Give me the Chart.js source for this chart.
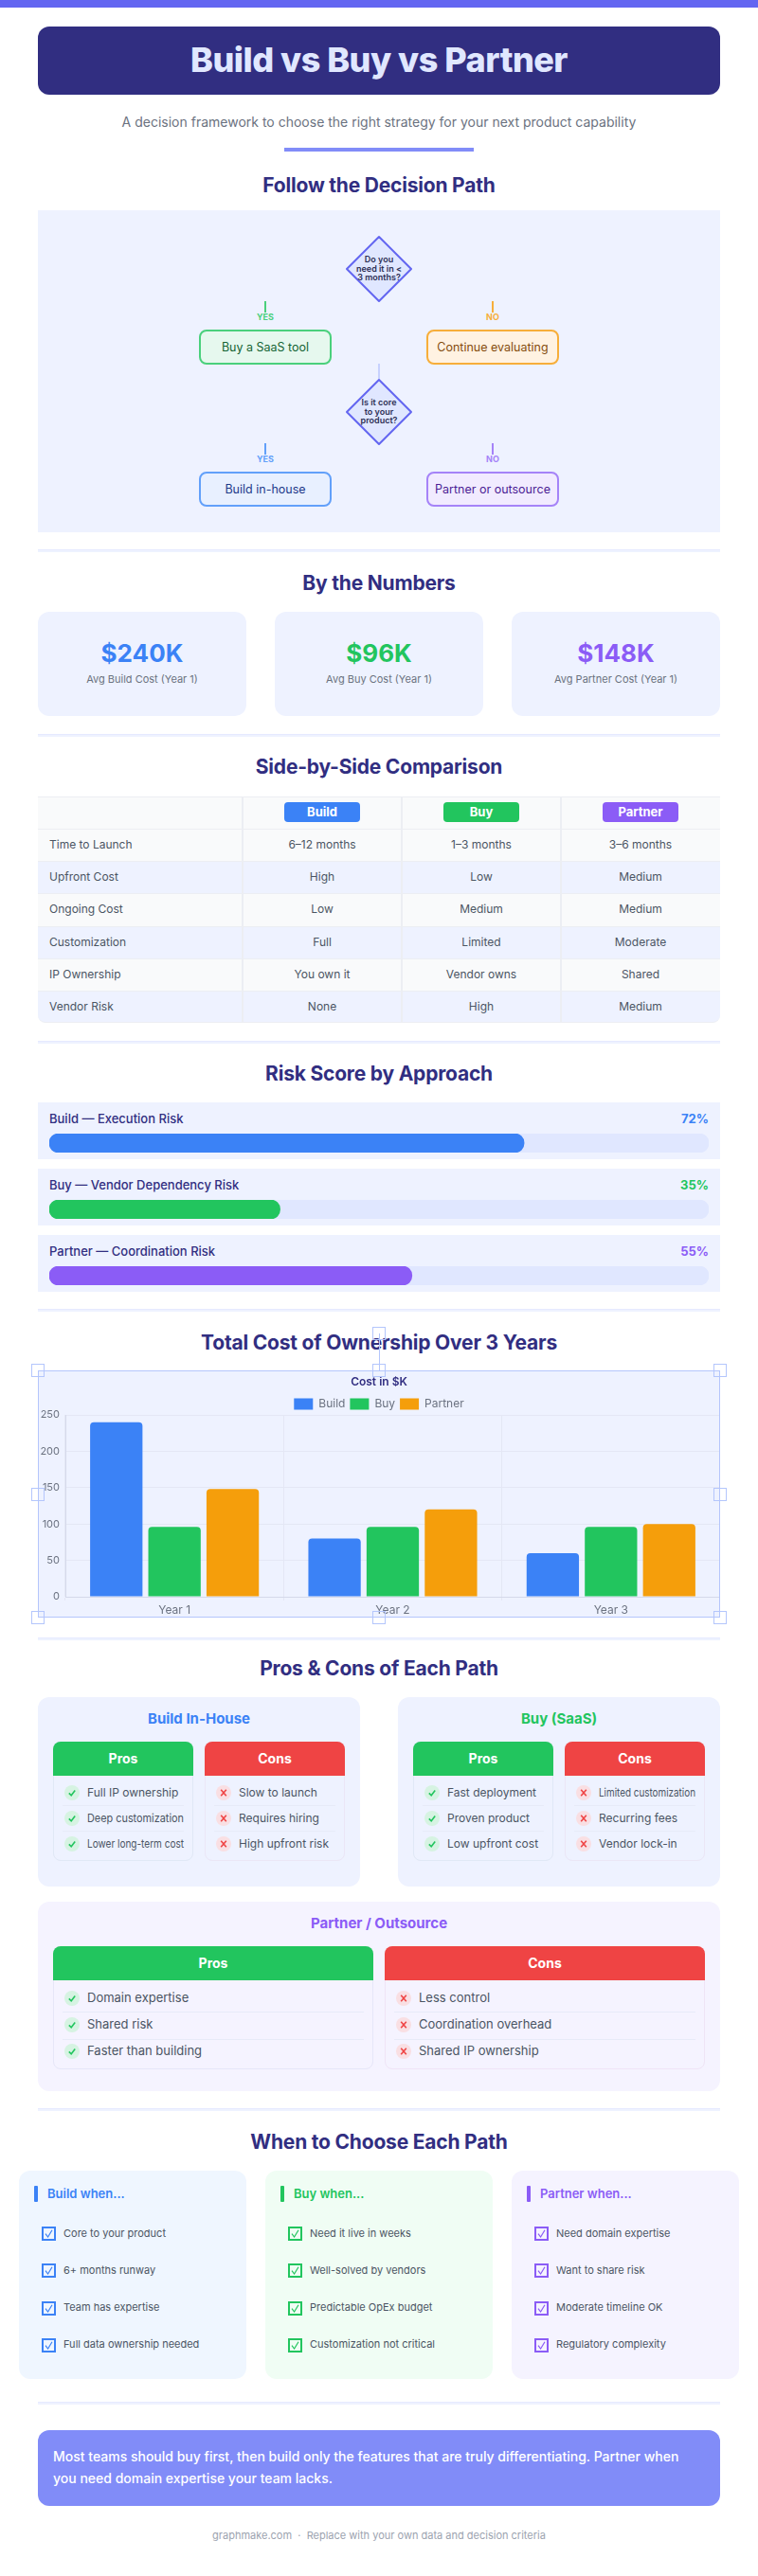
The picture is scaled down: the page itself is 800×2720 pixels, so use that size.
<!DOCTYPE html>
<html lang="en"><head><meta charset="utf-8"><title>Build vs Buy vs Partner</title>
<script src="https://cdn.jsdelivr.net/npm/chart.js@4/dist/chart.umd.min.js"></script>
<style>
html,body{margin:0;padding:0;background:#fff}
#page{position:relative;width:800px;height:2720px;overflow:hidden;font-family:Inter,sans-serif;color:#374151}
.a{position:absolute;box-sizing:border-box}
.t{position:absolute;white-space:nowrap;line-height:1.2}
.h2{font-weight:700;font-size:21px;color:#312e81;letter-spacing:-.2px}
canvas{display:block}
</style></head><body><div id="page"></div>
<script>
const title="Build vs Buy vs Partner";
const subtitle="A decision framework to choose the right strategy for your next product capability";
const sectionTitles=["Follow the Decision Path","By the Numbers","Side-by-Side Comparison","Risk Score by Approach","Total Cost of Ownership Over 3 Years","Pros & Cons of Each Path","When to Choose Each Path"];
const statValues=["$240K","$96K","$148K"];
const statLabels=["Avg Build Cost (Year 1)","Avg Buy Cost (Year 1)","Avg Partner Cost (Year 1)"];
const tableHead=["Build","Buy","Partner"];
const tableRows=["Time to Launch","Upfront Cost","Ongoing Cost","Customization","IP Ownership","Vendor Risk"];
const buildCol=["6–12 months","High","Low","Full","You own it","None"];
const buyCol=["1–3 months","Low","Medium","Limited","Vendor owns","High"];
const partnerCol=["3–6 months","Medium","Medium","Moderate","Shared","Medium"];
const riskLabels=["Build — Execution Risk","Buy — Vendor Dependency Risk","Partner — Coordination Risk"];
const riskValues=[72,35,55];
const years=["Year 1","Year 2","Year 3"];
const buildCost=[240,80,60];
const buyCost=[96,96,96];
const partnerCost=[148,120,100];
const buildPros=["Full IP ownership","Deep customization","Lower long-term cost"];
const buildCons=["Slow to launch","Requires hiring","High upfront risk"];
const buyPros=["Fast deployment","Proven product","Low upfront cost"];
const buyCons=["Limited customization","Recurring fees","Vendor lock-in"];
const partnerPros=["Domain expertise","Shared risk","Faster than building"];
const partnerCons=["Less control","Coordination overhead","Shared IP ownership"];
const whenBuild=["Core to your product","6+ months runway","Team has expertise","Full data ownership needed"];
const whenBuy=["Need it live in weeks","Well-solved by vendors","Predictable OpEx budget","Customization not critical"];
const whenPartner=["Need domain expertise","Want to share risk","Moderate timeline OK","Regulatory complexity"];
const callout=["Most teams should buy first, then build only the features that are truly differentiating. Partner when","you need domain expertise your team lacks."];
const footer="graphmake.com  ·  Replace with your own data and decision criteria";

const BLUE="#3b82f6",GREEN="#22c55e",PURPLE="#8b5cf6",ORANGE="#f59e0b",RED="#ef4444",NAVY="#312e81",PANEL="#eef2ff",TRACK="#e0e7ff";
const page=document.getElementById('page');
function box(x,y,w,h,css){const d=document.createElement('div');d.className='a';d.style.cssText=`left:${x}px;top:${y}px;width:${w}px;height:${h}px;`+(css||'');page.appendChild(d);return d;}
function txt(s,x,cy,align,css,cls,maxW){const d=document.createElement('div');d.className='t '+(cls||'');d.textContent=s;
 d.style.cssText=`left:${x}px;top:${cy}px;`+(css||'');
 const tx=align==='c'?'-50%':align==='r'?'-100%':'0';d.style.transform=`translate(${tx},-50%)`;page.appendChild(d);
 if(maxW){const w=d.getBoundingClientRect().width;if(w>maxW){d.style.transformOrigin='0 50%';d.style.transform=`translate(0,-50%) scaleX(${maxW/w})`;}}
 return d;}
function svg(x,y,w,h,inner){const d=box(x,y,w,h);d.innerHTML=`<svg width="${w}" height="${h}" viewBox="0 0 ${w} ${h}" style="display:block;overflow:visible">${inner}</svg>`;return d;}
function hr(y){box(40,y,720,3,'background:#eef2ff;border-top:1px solid #e6eaff');}
function h2(s,cy){txt(s,400,cy,'c','','h2');}

box(0,0,800,8,'background:#6366f1');
box(40,28,720,72,'background:'+NAVY+';border-radius:12px');
txt(title,400,64,'c','font-size:36px;font-weight:800;color:#e0e7ff;letter-spacing:-.5px');
txt(subtitle,400,129,'c','font-size:14px;color:#6b7280');
box(300,156,200,4,'background:#818cf8');

/* flow */
h2(sectionTitles[0],196);
box(40,222,720,340,'background:'+PANEL);
function diamond(cy,lines){
 svg(365,cy-35,70,70,`<polygon points="35,1 69,35 35,69 1,35" fill="#e0e7ff" stroke="#6366f1" stroke-width="2" stroke-linejoin="round"/>`);
 lines.forEach((l,i)=>txt(l,400,cy+(i-1)*9.8,'c','font-size:9px;font-weight:600;color:#2d2f55'));
}
function branch(cx,stubY,label,col,boxY,text,bg,border,fg){
 box(cx-1,stubY,2,12,'background:'+border);
 txt(label,cx,stubY+17,'c',`font-size:9px;font-weight:700;color:${border}`);
 box(cx-70,boxY,140,37,`background:${bg};border:2px solid ${border};border-radius:8px`);
 txt(text,cx,boxY+18.5,'c',`font-size:12.5px;font-weight:400;color:${fg}`);
}
diamond(283.5,["Do you","need it in <","3 months?"]);
branch(280,318,"YES",GREEN,347.5,"Buy a SaaS tool","#e6f8ee","#4ad07c","#166534");
branch(520,318,"NO",ORANGE,347.5,"Continue evaluating","#fff2e2","#f7ae3a","#854d0e");
box(399,384,2,16,'background:#c7d2fe');
diamond(434.5,["Is it core","to your","product?"]);
branch(280,468,"YES",BLUE,497.5,"Build in-house","#e8f0ff","#62a0fa","#1e3a8a");
branch(520,468,"NO",PURPLE,497.5,"Partner or outsource","#f1ebff","#a583f8","#4c1d95");

/* stats */
hr(580);
h2(sectionTitles[1],616);
[BLUE,GREEN,PURPLE].forEach((c,i)=>{const x=40+i*250;
 box(x,646,220,110,'background:'+PANEL+';border-radius:12px');
 txt(statValues[i],x+110,690,'c',`font-size:26px;font-weight:700;color:${c}`);
 txt(statLabels[i],x+110,718,'c','font-size:11px;color:#6b7280');});

/* table */
hr(775);
h2(sectionTitles[2],810);
const colX=[40,256,424,592,760],rowY=[841,875,909,943,977.5,1012,1046,1080];
const cols=[tableRows,buildCol,buyCol,partnerCol];
for(let r=0;r<7;r++){const bg=(r===0||r%2===1)?'#f9fafb':PANEL;
 box(40,rowY[r],720,rowY[r+1]-rowY[r],`background:${bg};border-top:1px solid #eceef3;`+(r===6?'border-bottom:1px solid #eceef3;border-radius:0 0 8px 8px;':''));}
for(let c=1;c<4;c++)box(colX[c]-1,841,1.5,239,'background:#eceef3');
[BLUE,GREEN,PURPLE].forEach((col,i)=>{const cx=(colX[i+1]+colX[i+2])/2;
 box(cx-40,847,80,21,`background:${col};border-radius:4px`);
 txt(tableHead[i],cx,857.5,'c','font-size:13px;font-weight:700;color:#fff');});
for(let r=0;r<6;r++){const cy=(rowY[r+1]+rowY[r+2])/2;
 txt(tableRows[r],52,cy,'l','font-size:12px;color:#4b5563');
 for(let c=1;c<4;c++)txt(cols[c][r],(colX[c]+colX[c+1])/2,cy,'c','font-size:12px;color:#4b5563');}

/* risk */
hr(1099);
h2(sectionTitles[3],1134);
const riskCols=[BLUE,GREEN,PURPLE];
riskValues.forEach((v,i)=>{const y=1164+i*70;
 box(40,y,720,60,'background:'+PANEL);
 txt(riskLabels[i],52,y+18,'l','font-size:13px;font-weight:500;color:'+NAVY);
 txt(v+'%',748,y+18,'r',`font-size:13px;font-weight:700;color:${riskCols[i]}`);
 const w=box(52,y+33,696,20);const cv=document.createElement('canvas');w.appendChild(cv);
 new Chart(cv,{type:'bar',data:{labels:[riskLabels[i]],datasets:[
  {data:[v],backgroundColor:riskCols[i],borderRadius:10,borderSkipped:false,barPercentage:1,categoryPercentage:1,grouped:false,order:1},
  {data:[100],backgroundColor:TRACK,borderRadius:10,borderSkipped:false,barPercentage:1,categoryPercentage:1,grouped:false,order:2}]},
  options:{indexAxis:'y',responsive:true,maintainAspectRatio:false,animation:false,layout:{padding:0},
   plugins:{legend:{display:false},title:{display:false},tooltip:{enabled:false}},
   scales:{x:{display:false,min:0,max:100},y:{display:false}}}});
});

/* TCO chart */
hr(1382);
h2(sectionTitles[4],1418);
const cw=box(40,1447,720,261,'background:'+PANEL);
const cc=document.createElement('canvas');cw.appendChild(cc);
const legendTrim={id:'legendTrim',beforeLayout(chart){const l=chart.legend;if(l&&!l._trim){l._trim=true;const f=l.fit;l.fit=function(){f.call(this);this.height=22.6;};}}};
new Chart(cc,{type:'bar',plugins:[legendTrim],data:{labels:years,datasets:[
 {label:'Build',data:buildCost,backgroundColor:BLUE,borderRadius:4},
 {label:'Buy',data:buyCost,backgroundColor:GREEN,borderRadius:4},
 {label:'Partner',data:partnerCost,backgroundColor:ORANGE,borderRadius:4}]},
 options:{responsive:true,maintainAspectRatio:false,animation:false,layout:{padding:0},
  plugins:{title:{display:true,text:'Cost in $K',color:NAVY,font:{family:'Inter',size:12,weight:'600'},padding:{top:5,bottom:5}},
   legend:{labels:{color:'#6b7280',boxWidth:20,boxHeight:12,padding:5,font:{family:'Inter',size:12}}},tooltip:{enabled:false}},
  scales:{x:{afterFit(s){s.height=22;},ticks:{color:'#6b7280',padding:3,font:{family:'Inter',size:12}},grid:{color:'#e4e7f5',tickLength:4},border:{color:'#d5d9ea'}},
   y:{afterFit(s){s.width=29;},min:0,max:250,ticks:{stepSize:50,padding:6,color:'#6b7280',font:{family:'Inter',size:11}},grid:{color:'#e4e7f5',drawTicks:false},border:{color:'#d5d9ea'}}}}});
/* selection frame seen around the chart */
const SEL='#b4c6fc';
box(40,1447,720,261,`border:1.5px solid ${SEL}`);
[[40,1447],[400,1447],[760,1447],[40,1577.5],[760,1577.5],[40,1708],[400,1708],[760,1708],[400,1408]].forEach(p=>box(p[0]-7,p[1]-7,14,14,`border:1px solid ${SEL}`));
box(399.5,1408,1.5,39,'background:'+SEL);

/* pros & cons */
hr(1729);
h2(sectionTitles[5],1762);
function checkIcon(cx,cy){svg(cx-8,cy-8,16,16,`<circle cx="8" cy="8" r="8" fill="#d6f3e2"/><polyline points="4.8,8.4 7.2,10.8 11.2,5.6" fill="none" stroke="${GREEN}" stroke-width="1.6"/>`);}
function crossIcon(cx,cy){svg(cx-8,cy-8,16,16,`<circle cx="8" cy="8" r="8" fill="#f9dfe3"/><path d="M5.2,4.8 L10.8,11.2 M10.8,4.8 L5.2,11.2" fill="none" stroke="${RED}" stroke-width="1.6"/>`);}
function pcCol(x,y,w,bottom,head,col,items,icon,itemY,divY,fs,maxW,borderCol){
 box(x,y,w,bottom-y,`border:1px solid ${borderCol};border-radius:8px`);
 box(x,y,w,36,`background:${col};border-radius:8px 8px 0 0`);
 txt(head,x+w/2,y+18,'c','font-size:14px;font-weight:700;color:#fff');
 divY.forEach(d=>box(x+10,d,w-20,1,'background:#e7ebf8'));
 items.forEach((s,i)=>{icon(x+20,itemY[i]);txt(s,x+36,itemY[i],'l',`font-size:${fs}px;color:#4b5563`,'',maxW);});
}
function pcCard(x,y,w,h,bg,name,col){box(x,y,w,h,`background:${bg};border-radius:12px`);txt(name,x+w/2,y+23,'c',`font-size:15px;font-weight:700;color:${col}`);}
const pc1Y=[1893,1920,1947],pc1D=[1906,1933],pc2Y=[2110,2138,2166],pc2D=[2124,2153];
pcCard(40,1792,340,200,PANEL,"Build In-House",BLUE);
pcCol(56,1839,148,1965,"Pros",GREEN,buildPros,checkIcon,pc1Y,pc1D,12,102,'#e0e8f6');
pcCol(216,1839,148,1965,"Cons",RED,buildCons,crossIcon,pc1Y,pc1D,12,102,'#ebe6f6');
pcCard(420,1792,340,200,PANEL,"Buy (SaaS)",GREEN);
pcCol(436,1839,148,1965,"Pros",GREEN,buyPros,checkIcon,pc1Y,pc1D,12,102,'#e0e8f6');
pcCol(596,1839,148,1965,"Cons",RED,buyCons,crossIcon,pc1Y,pc1D,12,102,'#ebe6f6');
pcCard(40,2008,720,200,'#f5f3ff',"Partner / Outsource",PURPLE);
pcCol(56,2055,338,2185,"Pros",GREEN,partnerPros,checkIcon,pc2Y,pc2D,13,0,'#e6e6f8');
pcCol(406,2055,338,2185,"Cons",RED,partnerCons,crossIcon,pc2Y,pc2D,13,0,'#efe4f6');

/* when */
hr(2226);
h2(sectionTitles[6],2262);
function whenCard(x,bg,col,name,items){
 box(x,2292,240,220,`background:${bg};border-radius:12px`);
 box(x+16,2308,4,17,`background:${col};border-radius:1px`);
 txt(name,x+30,2316.5,'l',`font-size:13px;font-weight:600;color:${col}`);
 [2358.5,2397.5,2437,2476].forEach((cy,i)=>{
  svg(x+23.5,cy-7.5,15,15,`<rect x="1" y="1" width="13" height="13" fill="none" stroke="${col}" stroke-width="2"/><polyline points="4,7.6 6.6,11 11,3.8" fill="none" stroke="${col}" stroke-width="1.2"/>`);
  txt(items[i],x+47,cy,'l','font-size:11px;color:#4b5563');});
}
whenCard(20,'#eff6ff',BLUE,"Build when...",whenBuild);
whenCard(280,'#f0fdf4',GREEN,"Buy when...",whenBuy);
whenCard(540,'#f5f3ff',PURPLE,"Partner when...",whenPartner);
hr(2536);
box(40,2566,720,80,'background:#818cf8;border-radius:12px');
callout.forEach((l,i)=>txt(l,56,2594+i*23,'l','font-size:14px;font-weight:500;color:#fff'));
txt(footer,400,2678,'c','font-size:11px;color:#9ca3af;white-space:pre');
</script></body></html>
